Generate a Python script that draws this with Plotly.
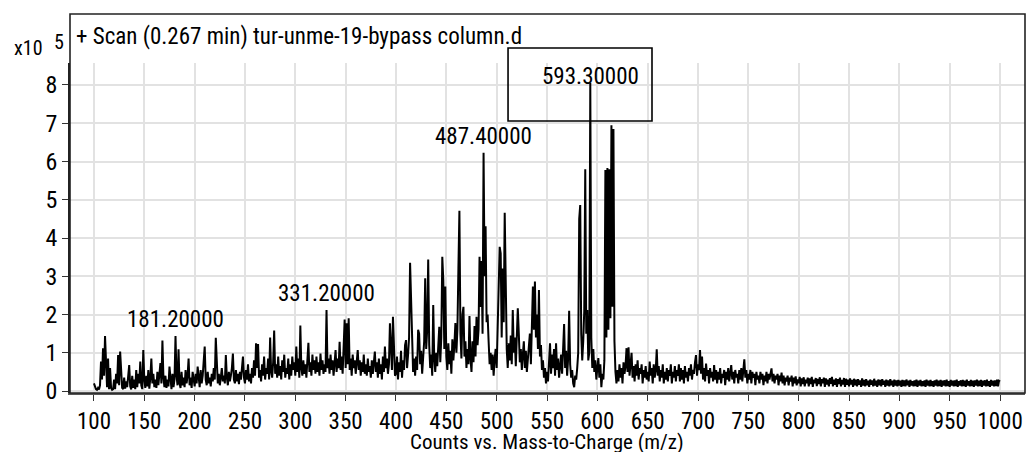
import plotly.graph_objects as go

# ---------------- data ----------------
mz_start = 100
mz_end = 1000
# intensity in units of 10^5 counts, one value per m/z unit from 100 to 1000
intensity_e5 = [
    0.20, 0.12, 0.05, 0.03, 0.08, 0.04, 0.15, 0.77, 0.30, 1.12,
    0.40, 1.44, 0.60, 0.10, 0.85, 0.05, 0.60, 0.08, 0.03, 0.05,
    0.30, 0.05, 0.45, 0.20, 0.94, 0.15, 1.03, 0.40, 0.08, 0.05,
    0.35, 0.06, 0.25, 0.10, 0.50, 0.68, 0.12, 0.04, 0.40, 0.08,
    0.30, 0.05, 0.55, 0.10, 0.45, 0.20, 0.77, 0.15, 0.05, 1.07,
    0.30, 0.08, 0.40, 0.12, 0.55, 0.06, 0.35, 0.85, 0.20, 0.45,
    0.10, 0.30, 0.08, 0.50, 0.15, 0.60, 0.73, 0.20, 1.32, 0.35,
    0.10, 0.40, 0.08, 0.30, 0.12, 0.64, 0.25, 0.05, 0.45, 0.10,
    0.30, 1.44, 0.40, 0.15, 1.09, 0.20, 0.08, 0.50, 0.15, 0.35,
    0.10, 0.55, 0.20, 0.40, 0.85, 0.15, 0.35, 0.08, 0.50, 0.25,
    0.12, 0.45, 0.20, 0.64, 0.30, 0.10, 0.55, 0.20, 0.40, 0.85,
    1.16, 0.30, 0.15, 0.50, 0.20, 0.35, 0.12, 0.45, 0.25, 0.60,
    0.30, 1.39, 0.50, 0.20, 0.45, 0.15, 0.35, 0.60, 0.25, 0.40,
    0.20, 0.94, 0.35, 0.15, 0.50, 0.25, 0.40, 0.60, 0.98, 0.30,
    0.20, 0.55, 0.25, 0.45, 0.18, 0.50, 0.30, 0.65, 0.90, 0.35,
    0.20, 0.55, 0.30, 0.70, 0.25, 0.45, 0.20, 0.60, 0.35, 0.80,
    0.40, 1.25, 0.60, 1.23, 0.35, 0.55, 0.25, 0.70, 0.40, 0.90,
    0.30, 0.60, 0.45, 0.85, 0.30, 1.40, 0.50, 0.35, 0.75, 1.58,
    0.45, 0.70, 0.35, 0.90, 0.40, 0.65, 0.30, 0.80, 0.50, 0.95,
    0.35, 0.60, 0.45, 0.85, 0.30, 0.70, 0.40, 0.90, 0.55, 0.75,
    0.40, 1.16, 0.50, 0.85, 0.35, 1.71, 0.60, 0.40, 0.80, 0.45,
    0.70, 0.35, 0.90, 1.26, 0.50, 0.75, 0.40, 0.95, 0.55, 0.80,
    0.45, 0.90, 0.50, 0.75, 0.40, 0.98, 0.55, 0.80, 0.45, 0.70,
    0.50, 2.12, 0.60, 0.85, 0.45, 0.95, 0.55, 0.80, 0.40, 0.90,
    1.07, 0.50, 0.85, 0.60, 1.29, 0.55, 0.90, 0.45, 1.10, 1.87,
    0.60, 1.77, 0.70, 1.90, 0.55, 0.85, 0.40, 0.95, 0.60, 0.80,
    0.45, 0.90, 1.07, 0.55, 0.80, 0.40, 0.75, 0.50, 0.95, 0.45,
    0.70, 0.40, 0.85, 0.50, 0.65, 0.35, 0.80, 0.45, 0.90, 1.03,
    0.50, 0.75, 0.35, 0.85, 0.45, 0.70, 0.30, 0.90, 0.50, 1.16,
    0.60, 0.85, 0.45, 0.70, 1.77, 0.90, 0.55, 1.94, 0.80, 0.40,
    0.45, 0.90, 0.30, 0.75, 0.50, 1.05, 0.35, 0.80, 0.55, 1.20,
    1.33, 0.60, 0.95, 1.40, 3.35, 2.42, 1.10, 0.50, 0.85, 0.40,
    0.90, 0.55, 1.60, 1.50, 0.70, 1.05, 0.45, 0.85, 1.30, 2.95,
    1.10, 1.60, 3.44, 1.20, 0.60, 0.95, 0.40, 2.25, 0.85, 0.50,
    1.00, 0.65, 1.20, 1.68, 0.75, 1.40, 3.51, 2.90, 1.10, 2.73,
    0.90, 0.55, 1.25, 0.70, 1.05, 0.45, 1.35, 0.80, 1.20, 1.78,
    1.00, 1.60, 3.20, 4.71, 1.50, 0.85, 2.00, 2.20, 0.90, 1.30,
    0.60, 1.10, 0.70, 1.96, 0.85, 0.50, 1.30, 0.75, 1.70, 0.90,
    1.94, 1.20, 1.60, 3.51, 2.20, 3.40, 1.50, 6.23, 3.00, 4.31,
    1.80, 2.00, 1.30, 0.70, 1.00, 0.55, 0.95, 0.40, 0.85, 1.10,
    0.60, 1.50, 3.00, 3.77, 3.60, 1.40, 3.20, 1.80, 4.66, 2.50,
    1.10, 0.60, 1.25, 0.80, 1.45, 0.70, 2.12, 1.00, 1.40, 0.65,
    1.20, 2.16, 1.50, 0.75, 1.10, 0.55, 0.95, 1.30, 0.60, 1.05,
    0.50, 0.90, 1.20, 1.50, 0.70, 2.30, 2.73, 1.60, 2.86, 1.40,
    2.00, 1.10, 2.64, 0.90, 1.20, 0.55, 0.80, 0.35, 0.60, 0.20,
    0.50, 0.25, 0.80, 1.25, 0.45, 0.95, 0.60, 1.10, 0.40, 1.25,
    0.55, 0.85, 0.35, 0.70, 0.95, 0.45, 1.20, 1.75, 0.60, 1.05,
    0.40, 0.85, 2.10, 0.70, 0.35, 0.55, 0.20, 0.10, 0.40, 0.30,
    0.60, 1.00, 4.50, 4.86, 1.50, 0.80, 1.30, 2.10, 5.80, 1.50,
    2.12, 0.80, 1.00, 8.05, 1.40, 0.60, 1.10, 0.50, 0.80, 0.30,
    0.60, 0.86, 0.35, 0.70, 0.10, 0.45, 0.30, 0.80, 5.78, 1.40,
    5.83, 1.60, 5.80, 1.90, 6.95, 2.20, 6.85, 1.30, 0.50, 0.20,
    0.55, 0.25, 0.70, 0.35, 0.60, 0.20, 0.75, 0.45, 0.65, 1.12,
    0.50, 1.14, 0.40, 0.75, 1.00, 0.35, 0.65, 0.25, 0.70, 0.40,
    0.80, 0.30, 0.60, 0.45, 0.70, 0.20, 0.55, 0.35, 0.65, 0.30,
    0.50, 0.25, 0.77, 0.40, 0.60, 0.20, 0.70, 0.35, 0.55, 1.09,
    0.40, 0.65, 0.25, 0.55, 0.35, 0.70, 0.20, 0.50, 0.30, 0.60,
    0.25, 0.55, 0.40, 0.70, 0.20, 0.50, 0.35, 0.65, 0.25, 0.55,
    0.40, 0.70, 0.25, 0.60, 0.30, 0.55, 0.20, 0.65, 0.35, 0.50,
    0.25, 0.60, 0.40, 0.70, 0.30, 0.55, 0.45, 0.75, 0.94, 0.40,
    0.70, 0.55, 1.07, 0.45, 0.90, 0.30, 0.60, 0.25, 0.72, 0.40,
    0.55, 0.20, 0.60, 0.35, 0.50, 0.25, 0.68, 0.30, 0.55, 0.20,
    0.50, 0.30, 0.60, 0.20, 0.45, 0.35, 0.55, 0.15, 0.50, 0.30,
    0.60, 0.25, 0.45, 0.68, 0.30, 0.50, 0.20, 0.55, 0.35, 0.45,
    0.20, 0.55, 0.30, 0.60, 0.25, 0.50, 0.83, 0.35, 0.55, 0.20,
    0.45, 0.30, 0.55, 0.20, 0.50, 0.35, 0.45, 0.15, 0.50, 0.30,
    0.40, 0.20, 0.50, 0.30, 0.45, 0.15, 0.40, 0.25, 0.50, 0.20,
    0.45, 0.30, 0.50, 0.59, 0.25, 0.45, 0.20, 0.40, 0.30, 0.45,
    0.15, 0.40, 0.25, 0.48, 0.20, 0.40, 0.15, 0.35, 0.25, 0.40,
    0.15, 0.35, 0.25, 0.40, 0.12, 0.35, 0.20, 0.38, 0.15, 0.30,
    0.20, 0.37, 0.12, 0.33, 0.18, 0.36, 0.12, 0.30, 0.20, 0.35,
    0.12, 0.33, 0.18, 0.37, 0.11, 0.30, 0.20, 0.34, 0.13, 0.32,
    0.18, 0.36, 0.12, 0.31, 0.20, 0.35, 0.11, 0.33, 0.17, 0.30,
    0.12, 0.34, 0.19, 0.37, 0.12, 0.30, 0.16, 0.33, 0.11, 0.31,
    0.18, 0.35, 0.12, 0.29, 0.17, 0.34, 0.11, 0.32, 0.16, 0.30,
    0.12, 0.33, 0.17, 0.29, 0.11, 0.32, 0.15, 0.30, 0.12, 0.31,
    0.16, 0.28, 0.11, 0.33, 0.14, 0.29, 0.12, 0.31, 0.15, 0.27,
    0.11, 0.30, 0.16, 0.28, 0.12, 0.32, 0.14, 0.27, 0.11, 0.30,
    0.15, 0.29, 0.12, 0.31, 0.16, 0.27, 0.11, 0.30, 0.14, 0.28,
    0.12, 0.31, 0.15, 0.27, 0.11, 0.30, 0.14, 0.28, 0.12, 0.29,
    0.14, 0.27, 0.11, 0.29, 0.13, 0.28, 0.12, 0.30, 0.15, 0.27,
    0.11, 0.29, 0.14, 0.26, 0.12, 0.28, 0.13, 0.30, 0.11, 0.27,
    0.14, 0.29, 0.12, 0.26, 0.13, 0.28, 0.11, 0.30, 0.14, 0.27,
    0.12, 0.29, 0.13, 0.26, 0.11, 0.28, 0.14, 0.30, 0.12, 0.27,
    0.13, 0.29, 0.11, 0.27, 0.14, 0.28, 0.12, 0.30, 0.13, 0.26,
    0.11, 0.29, 0.14, 0.27, 0.12, 0.28, 0.13, 0.30, 0.11, 0.26,
    0.14, 0.28, 0.12, 0.29, 0.13, 0.27, 0.11, 0.30, 0.14, 0.26,
    0.12, 0.29, 0.13, 0.27, 0.11, 0.28, 0.14, 0.30, 0.12, 0.27,
    0.13, 0.29, 0.11, 0.27, 0.14, 0.28, 0.12, 0.30, 0.13, 0.26,
    0.11, 0.29, 0.14, 0.27, 0.12, 0.28, 0.13, 0.30, 0.12, 0.27,
    0.25,
]
mz = list(range(mz_start, mz_end + 1))

x_ticks = [100, 150, 200, 250, 300, 350, 400, 450, 500, 550,
           600, 650, 700, 750, 800, 850, 900, 950, 1000]
y_ticks = [0, 1, 2, 3, 4, 5, 6, 7, 8]

peak_mz = [181.2, 331.2, 487.4, 593.3]
boxed_peak = 593.3

title_text = "+ Scan (0.267 min) tur-unme-19-bypass column.d"
x_title = "Counts vs. Mass-to-Charge (m/z)"

# ---------------- layout geometry ----------------
W, H = 1028, 452
L, R, T, B = 70, 1025, 63, 393          # plot area in pixels
FONT = "Roboto Condensed, Liberation Sans Narrow, Liberation Sans, Arial, sans-serif"
FS = 23


def px(xpix):
    return (xpix - L) / (R - L)


def py(ypix):
    return (B - ypix) / (B - T)


fig = go.Figure()
fig.add_trace(go.Scatter(
    x=mz, y=intensity_e5, mode="lines",
    line=dict(color="black", width=2.0),
    hoverinfo="skip", showlegend=False,
))

annotations = []
for pk in peak_mz:
    idx = int(round(pk)) - mz_start
    top = max(intensity_e5[max(idx - 1, 0): idx + 2])
    shift = -9 if pk == boxed_peak else 1
    annotations.append(dict(
        x=pk, y=top, xref="x", yref="y", text=f"{pk:.5f}",
        showarrow=False, xanchor="center", yanchor="bottom", yshift=shift,
        font=dict(family=FONT, size=FS, color="black")))

annotations += [
    dict(x=px(74), y=py(37), xref="paper", yref="paper", text=title_text,
         showarrow=False, xanchor="left", yanchor="middle",
         font=dict(family=FONT, size=FS, color="black")),
    dict(x=px(45), y=py(48), xref="paper", yref="paper", text="x10",
         showarrow=False, xanchor="right", yanchor="middle",
         font=dict(family=FONT, size=20, color="black")),
    dict(x=px(52), y=py(42), xref="paper", yref="paper", text="5",
         showarrow=False, xanchor="left", yanchor="middle",
         font=dict(family=FONT, size=20, color="black")),
    dict(x=px(547), y=py(442), xref="paper", yref="paper", text=x_title,
         showarrow=False, xanchor="center", yanchor="middle",
         font=dict(family=FONT, size=21, color="black")),
]

shapes = [
    dict(type="rect", xref="paper", yref="paper", x0=0, x1=1, y0=0, y1=py(14),
         line=dict(color="#222222", width=1.6), fillcolor="rgba(0,0,0,0)", layer="above"),
    dict(type="rect", xref="x", yref="paper", x0=boxed_peak - 82, x1=boxed_peak + 61,
         y0=py(121), y1=py(48), line=dict(color="black", width=1.6),
         fillcolor="rgba(0,0,0,0)", layer="above"),
]

fig.update_layout(
    width=W, height=H,
    margin=dict(l=L, r=W - R, t=T, b=H - B, pad=0),
    paper_bgcolor="white", plot_bgcolor="white",
    font=dict(family=FONT, size=FS, color="black"),
    showlegend=False,
    annotations=annotations,
    shapes=shapes,
)
fig.update_xaxes(
    range=[76.2, 1024.8], tickmode="array", tickvals=x_ticks,
    ticktext=[str(v) for v in x_ticks],
    ticks="outside", ticklen=6, tickwidth=1.2, tickcolor="#333333",
    tickfont=dict(family=FONT, size=FS, color="black"),
    showgrid=True, gridcolor="#e2e2e2", gridwidth=2,
    showline=True, linecolor="#555555", linewidth=2,
    zeroline=False, fixedrange=True,
)
fig.update_yaxes(
    range=[-0.052, 8.575], tickmode="array", tickvals=y_ticks,
    ticktext=[str(v) for v in y_ticks],
    ticks="outside", ticklen=6, tickwidth=1.2, tickcolor="#333333",
    tickfont=dict(family=FONT, size=FS + 1, color="black"),
    showgrid=True, gridcolor="#e2e2e2", gridwidth=2,
    showline=True, linecolor="#222222", linewidth=1.6,
    zeroline=False, fixedrange=True,
)

fig.write_html("out.html", config={"displayModeBar": False})
